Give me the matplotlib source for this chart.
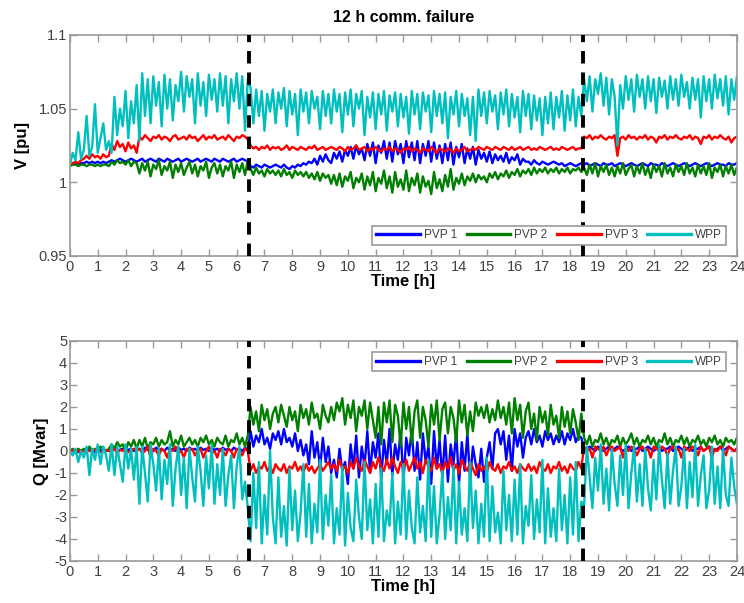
import numpy as np
import matplotlib
matplotlib.use("Agg")
import matplotlib.pyplot as plt

# sampled every 0.1 h, 0 ... 24 h (241 samples)
n_samples = 241
t_fail_start = 6.45
t_fail_end = 18.45

series_names = ["PVP 1", "PVP 2", "PVP 3", "WPP"]
series_colors = ["#0000ff", "#007f00", "#ff0000", "#00bfbf"]

v_pvp1 = [
    1.012, 1.012, 1.013, 1.012, 1.013,
    1.013, 1.014, 1.013, 1.014, 1.013, 1.014, 1.013, 1.014, 1.013, 1.014,
    1.015, 1.014, 1.015, 1.016, 1.015, 1.014, 1.015, 1.016, 1.015, 1.014,
    1.015, 1.016, 1.014, 1.015, 1.016, 1.015, 1.014, 1.016, 1.015, 1.014,
    1.016, 1.015, 1.014, 1.015, 1.016, 1.014, 1.015, 1.016, 1.015, 1.014,
    1.015, 1.016, 1.014, 1.015, 1.016, 1.015, 1.014, 1.016, 1.015, 1.014,
    1.016, 1.015, 1.014, 1.015, 1.016, 1.014, 1.015, 1.016, 1.015, 1.014,
    1.011, 1.010, 1.012, 1.011, 1.010, 1.012, 1.011, 1.010, 1.011, 1.012,
    1.011, 1.010, 1.012, 1.010, 1.009, 1.011, 1.010, 1.012, 1.011, 1.013,
    1.012, 1.014, 1.013, 1.016, 1.012, 1.018, 1.014, 1.019, 1.015, 1.013,
    1.020, 1.016, 1.021, 1.014, 1.022, 1.018, 1.024, 1.016, 1.025, 1.019,
    1.023, 1.015, 1.026, 1.018, 1.027, 1.013, 1.025, 1.020, 1.028, 1.016,
    1.027, 1.014, 1.028, 1.019, 1.026, 1.013, 1.028, 1.017, 1.027, 1.015,
    1.028, 1.013, 1.026, 1.018, 1.028, 1.014, 1.027, 1.016, 1.025, 1.013,
    1.026, 1.015, 1.027, 1.012, 1.024, 1.017, 1.026, 1.013, 1.023, 1.016,
    1.024, 1.012, 1.022, 1.016, 1.020, 1.014, 1.021, 1.013, 1.019, 1.015,
    1.018, 1.014, 1.020, 1.013, 1.017, 1.015, 1.019, 1.012, 1.016, 1.014,
    1.014, 1.012, 1.015, 1.013, 1.012, 1.014, 1.013, 1.012, 1.013, 1.014,
    1.013, 1.012, 1.013, 1.011, 1.012, 1.013, 1.012, 1.011, 1.012, 1.013,
    1.012, 1.013, 1.011, 1.012, 1.013, 1.012, 1.011, 1.013, 1.012, 1.012,
    1.013, 1.011, 1.012, 1.013, 1.012, 1.011, 1.012, 1.013, 1.012, 1.011,
    1.012, 1.013, 1.012, 1.011, 1.013, 1.012, 1.012, 1.011, 1.013, 1.012,
    1.011, 1.012, 1.013, 1.012, 1.011, 1.012, 1.013, 1.012, 1.011, 1.012,
    1.013, 1.012, 1.011, 1.012, 1.013, 1.012, 1.011, 1.012, 1.013, 1.012,
    1.012, 1.011, 1.013, 1.012, 1.012, 1.013,
]

v_pvp2 = [
    1.011, 1.012, 1.012, 1.011, 1.012,
    1.012, 1.011, 1.012, 1.012, 1.011, 1.012, 1.011, 1.012, 1.012, 1.011,
    1.014, 1.012, 1.015, 1.013, 1.014, 1.012, 1.015, 1.011, 1.014, 1.013,
    1.006, 1.013, 1.008, 1.014, 1.004, 1.012, 1.009, 1.015, 1.005, 1.011,
    1.008, 1.014, 1.003, 1.012, 1.007, 1.013, 1.005, 1.010, 1.014, 1.006,
    1.012, 1.004, 1.011, 1.008, 1.014, 1.003, 1.010, 1.013, 1.006, 1.012,
    1.004, 1.011, 1.008, 1.014, 1.003, 1.012, 1.007, 1.013, 1.005, 1.015,
    1.009, 1.005, 1.010, 1.006, 1.008, 1.004, 1.009, 1.006, 1.008, 1.005,
    1.008, 1.004, 1.009, 1.005, 1.007, 1.003, 1.008, 1.005, 1.007, 1.004,
    1.007, 1.003, 1.006, 1.002, 1.007, 1.001, 1.006, 1.003, 1.005, 0.999,
    1.005, 0.998, 1.006, 0.997, 1.004, 1.001, 1.007, 0.996, 1.003, 1.000,
    1.006, 0.995, 1.004, 0.998, 1.007, 0.994, 1.003, 0.999, 1.008, 0.996,
    1.004, 0.993, 1.007, 0.997, 1.002, 0.995, 1.008, 0.994, 1.003, 0.998,
    1.006, 0.993, 1.004, 0.997, 1.001, 0.992, 1.007, 0.996, 1.002, 0.994,
    1.005, 0.997, 1.009, 0.995, 1.003, 0.999, 1.006, 0.998, 1.004, 1.001,
    1.006, 1.000, 1.005, 1.002, 1.004, 1.000, 1.006, 1.003, 1.007, 1.002,
    1.006, 1.004, 1.008, 1.003, 1.007, 1.005, 1.009, 1.004, 1.008, 1.006,
    1.009, 1.005, 1.010, 1.006, 1.009, 1.007, 1.010, 1.006, 1.009, 1.007,
    1.010, 1.006, 1.009, 1.007, 1.010, 1.006, 1.009, 1.008, 1.010, 1.007,
    1.010, 1.005, 1.012, 1.006, 1.013, 1.004, 1.011, 1.007, 1.012, 1.005,
    1.010, 1.004, 1.011, 1.006, 1.013, 1.005, 1.009, 1.012, 1.004, 1.011,
    1.006, 1.013, 1.005, 1.010, 1.003, 1.012, 1.007, 1.011, 1.004, 1.013,
    1.006, 1.010, 1.004, 1.012, 1.007, 1.011, 1.005, 1.013, 1.006, 1.010,
    1.004, 1.012, 1.006, 1.011, 1.005, 1.013, 1.003, 1.010, 1.007, 1.012,
    1.004, 1.011, 1.006, 1.012, 1.005, 1.010,
]

v_pvp3 = [
    1.012, 1.013, 1.014, 1.013, 1.015,
    1.016, 1.018, 1.016, 1.019, 1.017, 1.018, 1.016, 1.019, 1.017, 1.018,
    1.026, 1.022, 1.028, 1.024, 1.026, 1.021, 1.027, 1.023, 1.025, 1.020,
    1.031, 1.029, 1.032, 1.030, 1.028, 1.031, 1.030, 1.032, 1.029, 1.031,
    1.030, 1.028, 1.031, 1.032, 1.029, 1.030, 1.031, 1.029, 1.032, 1.030,
    1.031, 1.028, 1.030, 1.032, 1.029, 1.031, 1.030, 1.032, 1.029, 1.030,
    1.031, 1.029, 1.032, 1.030, 1.028, 1.031, 1.030, 1.032, 1.031, 1.029,
    1.025, 1.023, 1.024, 1.022, 1.024, 1.023, 1.025, 1.022, 1.024, 1.023,
    1.024, 1.022, 1.023, 1.025, 1.022, 1.024, 1.023, 1.022, 1.024, 1.023,
    1.022, 1.024, 1.023, 1.025, 1.022, 1.023, 1.024, 1.022, 1.023, 1.024,
    1.023, 1.022, 1.024, 1.023, 1.021, 1.024, 1.022, 1.023, 1.025, 1.022,
    1.023, 1.024, 1.021, 1.023, 1.022, 1.024, 1.022, 1.021, 1.023, 1.022,
    1.024, 1.021, 1.023, 1.022, 1.020, 1.023, 1.022, 1.024, 1.021, 1.023,
    1.022, 1.020, 1.023, 1.022, 1.021, 1.024, 1.022, 1.020, 1.023, 1.022,
    1.021, 1.023, 1.022, 1.020, 1.023, 1.021, 1.022, 1.024, 1.021, 1.022,
    1.023, 1.022, 1.024, 1.023, 1.022, 1.024, 1.023, 1.022, 1.024, 1.023,
    1.022, 1.024, 1.023, 1.022, 1.024, 1.022, 1.023, 1.024, 1.022, 1.023,
    1.024, 1.022, 1.023, 1.022, 1.024, 1.023, 1.022, 1.023, 1.024, 1.022,
    1.023, 1.022, 1.024, 1.023, 1.022, 1.023, 1.024, 1.022, 1.023, 1.023,
    1.031, 1.030, 1.032, 1.029, 1.031, 1.030, 1.032, 1.030, 1.029, 1.031,
    1.030, 1.032, 1.018, 1.030, 1.031, 1.029, 1.032, 1.030, 1.031, 1.029,
    1.031, 1.030, 1.032, 1.029, 1.031, 1.030, 1.027, 1.031, 1.030, 1.032,
    1.029, 1.031, 1.030, 1.032, 1.030, 1.029, 1.031, 1.030, 1.032, 1.029,
    1.031, 1.030, 1.026, 1.031, 1.030, 1.032, 1.029, 1.031, 1.030, 1.032,
    1.030, 1.029, 1.031, 1.027, 1.030, 1.031,
]

v_wpp = [
    1.012, 1.020, 1.015, 1.034, 1.016,
    1.022, 1.045, 1.018, 1.024, 1.053, 1.020, 1.030, 1.040, 1.022, 1.028,
    1.020, 1.058, 1.032, 1.050, 1.038, 1.062, 1.030, 1.055, 1.040, 1.066,
    1.028, 1.074, 1.045, 1.070, 1.040, 1.072, 1.052, 1.068, 1.038, 1.073,
    1.050, 1.070, 1.042, 1.066, 1.055, 1.075, 1.048, 1.072, 1.058, 1.070,
    1.040, 1.074, 1.052, 1.068, 1.045, 1.073, 1.056, 1.070, 1.048, 1.074,
    1.052, 1.072, 1.040, 1.070, 1.055, 1.074, 1.050, 1.072, 1.035, 1.070,
    1.064, 1.040, 1.063, 1.045, 1.062, 1.035, 1.060, 1.048, 1.063, 1.040,
    1.061, 1.050, 1.064, 1.038, 1.062, 1.046, 1.060, 1.032, 1.063, 1.048,
    1.061, 1.040, 1.062, 1.050, 1.058, 1.036, 1.062, 1.045, 1.060, 1.040,
    1.063, 1.048, 1.060, 1.034, 1.061, 1.046, 1.063, 1.038, 1.060, 1.050,
    1.062, 1.032, 1.058, 1.044, 1.061, 1.036, 1.060, 1.046, 1.062, 1.035,
    1.059, 1.048, 1.061, 1.038, 1.060, 1.044, 1.058, 1.033, 1.062, 1.046,
    1.060, 1.036, 1.061, 1.048, 1.059, 1.034, 1.062, 1.045, 1.060, 1.040,
    1.061, 1.030, 1.058, 1.046, 1.062, 1.038, 1.060, 1.045, 1.057, 1.032,
    1.058, 1.028, 1.063, 1.045, 1.061, 1.040, 1.062, 1.048, 1.059, 1.036,
    1.061, 1.046, 1.063, 1.038, 1.060, 1.044, 1.058, 1.034, 1.062, 1.045,
    1.060, 1.036, 1.059, 1.042, 1.057, 1.032, 1.058, 1.040, 1.061, 1.036,
    1.058, 1.044, 1.062, 1.035, 1.059, 1.042, 1.063, 1.038, 1.058, 1.045,
    1.070, 1.055, 1.072, 1.048, 1.070, 1.060, 1.074, 1.052, 1.071, 1.046,
    1.070, 1.058, 1.025, 1.066, 1.050, 1.072, 1.056, 1.070, 1.048, 1.073,
    1.058, 1.070, 1.050, 1.072, 1.055, 1.070, 1.047, 1.071, 1.058, 1.069,
    1.050, 1.072, 1.056, 1.070, 1.052, 1.073, 1.058, 1.068, 1.050, 1.071,
    1.056, 1.070, 1.044, 1.072, 1.055, 1.070, 1.050, 1.073, 1.057, 1.070,
    1.052, 1.072, 1.046, 1.070, 1.056, 1.072,
]

q_pvp1 = [
    0.0, 0.05, 0.0, -0.05, 0.0,
    0.05, 0.0, 0.05, 0.0, -0.05, 0.0, 0.05, 0.0, 0.0, 0.05,
    0.0, 0.1, 0.0, 0.05, 0.1, 0.0, 0.05, 0.1, 0.0, 0.05,
    0.1, 0.0, 0.15, 0.05, 0.1, 0.0, 0.15, 0.05, 0.1, 0.0,
    0.15, 0.05, 0.1, 0.0, 0.15, 0.05, 0.1, 0.0, 0.15, 0.05,
    0.1, 0.0, 0.15, 0.05, 0.1, 0.0, 0.15, 0.05, 0.1, 0.0,
    0.15, 0.05, 0.1, 0.0, 0.15, 0.05, 0.1, 0.0, 0.15, 0.05,
    0.9, 0.2, 0.7, 0.4, 1.0, 0.3, 0.6, 0.1, 0.8, 0.5,
    0.9, 0.3, 1.0, 0.4, 0.6, 0.2, 0.8, 0.0, 0.5, -0.2,
    0.3, -0.6, 0.9, -0.3, 0.4, -0.8, 0.6, -0.5, 0.2, -1.0,
    -0.4, -1.2, 0.1, -0.9, -0.5, -1.5, 0.3, -0.8, 0.7, -1.2,
    0.2, -0.7, 0.9, -1.0, 0.4, -0.3, 0.8, -1.3, 0.5, -0.6,
    1.0, -1.1, 0.3, -0.4, 0.9, -1.4, 0.6, -0.2, 1.0, -0.9,
    0.4, -1.3, 0.8, -0.5, 0.2, -1.5, 0.9, -0.8, 0.5, -1.2,
    0.7, -1.4, 0.3, -0.6, 0.9, -1.5, 0.4, -0.9, 0.8, -1.3,
    0.2, -0.6, -1.2, 0.1, -1.4, -0.3, 0.4, -0.8, 0.8, 1.0,
    0.3, 0.9, -0.4, 0.7, -0.9, 1.0, 0.2, 0.8, -0.3, 0.6,
    0.9, 0.3, 1.0, 0.4, 0.7, 0.2, 0.9, 0.5, 0.8, 0.3,
    0.7, 0.4, 0.9, 0.3, 0.8, 0.5, 1.0, 0.4, 0.7, 0.6,
    0.1, 0.0, 0.2, 0.1, 0.0, 0.2, 0.1, 0.0, 0.1, 0.2,
    0.0, 0.1, 0.2, 0.1, 0.0, 0.1, 0.2, 0.0, 0.1, 0.1,
    0.2, 0.0, 0.1, 0.2, 0.1, 0.0, 0.1, 0.2, 0.0, 0.1,
    0.1, 0.2, 0.0, 0.1, 0.2, 0.1, 0.0, 0.1, 0.2, 0.0,
    0.1, 0.1, 0.2, 0.0, 0.1, 0.2, 0.1, 0.0, 0.1, 0.2,
    0.0, 0.1, 0.2, 0.1, 0.0, 0.1,
]

q_pvp2 = [
    0.0, 0.1, -0.1, 0.1, 0.0,
    0.1, 0.0, 0.2, 0.0, 0.1, 0.0, 0.2, 0.1, 0.0, 0.1,
    0.3, 0.1, 0.4, 0.2, 0.3, 0.0, 0.4, 0.2, 0.5, 0.1,
    0.5, 0.2, 0.6, 0.1, 0.4, 0.3, 0.6, 0.2, 0.5, 0.3,
    0.4, 0.9, 0.2, 0.5, 0.3, 0.7, 0.2, 0.4, 0.6, 0.3,
    0.5, 0.2, 0.6, 0.4, 0.7, 0.3, 0.5, 0.2, 0.6, 0.4,
    0.3, 0.7, 0.2, 0.5, 0.4, 0.8, 0.3, 0.6, 0.2, 0.7,
    2.0, 1.2, 1.8, 0.9, 2.1, 1.4, 1.9, 1.0, 1.7, 2.0,
    1.3, 2.1, 1.6, 1.1, 2.0, 1.4, 1.8, 0.9, 2.1, 1.5,
    1.9, 1.2, 2.2, 1.5, 1.7, 1.0, 2.1, 1.6, 1.3, 2.0,
    1.4, 2.2, 1.8, 2.4, 1.2, 2.1, 1.5, 2.3, 0.9, 2.0,
    1.6, 2.3, 1.0, 2.2, 1.4, 0.6, 2.0, 0.3, 2.2, 1.3,
    2.3, 0.4, 2.1, 1.6, 0.2, 2.2, 1.0, 2.0, 0.3, 1.8,
    2.3, 0.6, 2.0, 1.4, 0.2, 2.1, 1.2, 2.3, 0.5, 1.9,
    2.2, 0.8, 2.0, 1.5, 0.4, 2.3, 1.3, 2.1, 0.7, 1.8,
    0.9, 2.2, 1.6, 2.0, 1.5, 2.1, 1.3, 1.9, 1.4, 2.3,
    1.5, 2.0, 1.2, 2.2, 0.8, 2.4, 1.4, 2.1, 0.6, 1.8,
    2.2, 1.0, 1.7, 0.5, 2.0, 1.3, 1.8, 0.7, 2.1, 1.2,
    1.6, 0.6, 2.0, 1.1, 1.8, 0.8, 1.9, 1.3, 0.5, 1.7,
    0.6, 0.3, 0.7, 0.2, 0.5, 0.4, 0.8, 0.3, 0.6, 0.2,
    0.5, 0.4, 0.7, 0.2, 0.6, 0.3, 0.5, 0.8, 0.3, 0.6,
    0.2, 0.5, 0.4, 0.7, 0.3, 0.6, 0.2, 0.5, 0.4, 0.8,
    0.3, 0.6, 0.2, 0.5, 0.4, 0.7, 0.3, 0.6, 0.2, 0.5,
    0.4, 0.7, 0.3, 0.5, 0.2, 0.6, 0.4, 0.7, 0.3, 0.5,
    0.2, 0.6, 0.4, 0.5, 0.3, 0.6,
]

q_pvp3 = [
    0.0, 0.0, 0.05, 0.0, -0.05,
    0.0, 0.05, 0.0, 0.0, 0.05, 0.0, -0.05, 0.0, 0.05, 0.0,
    0.0, 0.1, -0.1, 0.05, 0.0, 0.1, -0.05, 0.0, 0.1, 0.0,
    0.1, -0.1, 0.0, 0.2, -0.3, 0.1, 0.0, -0.2, 0.1, 0.0,
    -0.3, 0.1, 0.0, 0.2, -0.1, 0.0, -0.3, 0.1, 0.0, 0.1,
    -0.2, 0.0, 0.1, -0.3, 0.0, 0.2, -0.1, 0.0, -0.3, 0.1,
    0.0, -0.2, 0.1, 0.0, -0.3, 0.1, 0.0, -0.2, 0.1, 0.0,
    -0.9, -0.6, -1.0, -0.7, -0.8, -0.5, -0.9, -0.7, -1.0, -0.6,
    -0.8, -0.9, -0.6, -1.0, -0.7, -0.8, -0.5, -0.9, -0.7, -1.0,
    -0.6, -0.9, -0.7, -1.0, -0.8, -0.6, -0.9, -0.7, -0.5, -0.8,
    -0.6, -0.9, -0.4, -0.8, -0.7, -1.0, -0.5, -0.8, -0.3, -0.7,
    -0.9, -0.4, -0.7, -1.0, -0.5, -0.8, -0.3, -0.7, -0.9, -0.4,
    -0.8, -0.3, -0.7, -1.0, -0.5, -0.8, -0.4, -0.9, -0.6, -0.3,
    -0.8, -0.5, -1.0, -0.4, -0.7, -0.9, -0.3, -0.8, -0.6, -1.0,
    -0.5, -0.8, -0.3, -0.9, -0.6, -1.0, -0.4, -0.7, -0.9, -0.5,
    -0.8, -1.1, -0.6, -0.9, -0.7, -1.0, -0.5, -0.8, -0.9, -0.6,
    -1.0, -0.7, -0.8, -0.5, -0.9, -0.7, -1.0, -0.6, -0.8, -0.9,
    -0.6, -0.9, -0.7, -1.0, -0.5, -0.8, -0.9, -0.6, -1.0, -0.7,
    -0.8, -0.5, -0.9, -0.7, -1.0, -0.6, -0.8, -0.9, -0.5, -0.8,
    0.2, 0.0, 0.1, -0.3, 0.2, 0.1, 0.0, 0.2, -0.2, 0.1,
    0.2, 0.0, 0.1, 0.2, -0.3, 0.1, 0.0, 0.2, 0.1, -0.2,
    0.1, 0.2, 0.0, 0.1, -0.3, 0.2, 0.1, 0.0, 0.2, 0.1,
    -0.2, 0.1, 0.2, 0.0, 0.1, -0.3, 0.2, 0.1, 0.0, 0.2,
    0.1, -0.2, 0.2, 0.0, 0.1, 0.2, -0.3, 0.1, 0.0, 0.2,
    0.1, -0.2, 0.2, 0.1, 0.0, 0.1,
]

q_wpp = [
    0.0, -0.2, 0.1, -0.5, 0.0,
    -0.3, 0.2, -1.1, 0.1, -0.4, 0.3, -0.6, 0.2, -0.2, -0.9,
    0.3, -1.1, 0.2, -0.6, -1.4, 0.3, -0.8, 0.1, -1.3, 0.2,
    -2.4, 0.2, -1.0, -2.3, 0.3, -0.6, -1.8, 0.1, -2.2, -0.4,
    -1.5, 0.3, -2.5, -0.8, 0.2, -2.0, -0.3, -2.6, 0.1, -1.2,
    -2.3, 0.2, -0.9, -2.5, -0.2, -1.7, 0.3, -2.4, -0.6, -2.0,
    0.1, -2.5, -1.1, -0.2, -2.6, -0.7, 0.2, -2.2, -1.4, -2.6,
    -4.1, -1.0, -3.5, -0.5, -4.2, -2.0, -3.8, 0.0, -3.0, -4.2,
    -1.2, -3.9, -2.5, -4.3, -0.8, -3.6, -1.8, -4.1, -2.8, -0.6,
    -3.9, -1.5, -4.2, -2.4, -3.7, -0.4, -4.0, -2.0, -3.4, -1.1,
    -4.2, -2.6, -3.8, -0.7, -4.3, -1.9, -3.5, -4.1, -1.3, -3.0,
    -4.0, -0.5, -3.6, -2.2, -4.2, -1.5, -3.9, -0.8, -4.1, -2.7,
    -3.4, -1.0, -4.2, -2.3, -3.8, -0.6, -4.0, -1.8, -3.5, -4.2,
    -1.2, -3.7, -2.5, -4.1, -0.4, -3.9, -1.6, -4.2, -2.9, -0.9,
    -4.0, -2.1, -3.6, -0.7, -4.2, -1.4, -3.8, -2.6, -4.1, -0.5,
    -3.5, -1.8, -4.2, -2.4, -3.9, -0.3, -4.1, -1.6, -3.7, -2.8,
    -4.2, -0.9, -3.6, -2.0, -4.1, -1.3, -3.8, -0.6, -4.2, -2.5,
    -3.4, -1.1, -4.0, -2.2, -3.7, -0.4, -4.2, -1.7, -3.9, -2.6,
    -4.1, -0.8, -3.6, -2.0, -4.2, -1.2, -3.8, -0.5, -4.1, -2.3,
    -2.5, 0.2, -1.2, -2.6, -0.3, -1.8, 0.3, -2.4, -0.8, -2.7,
    0.1, -1.5, -2.5, -0.2, -2.0, 0.3, -2.6, -1.0, 0.2, -2.3,
    -0.6, -2.5, 0.1, -1.7, -2.7, -0.4, -2.2, 0.3, -1.3, -2.6,
    -0.1, -2.4, -0.9, 0.2, -2.5, -1.6, 0.1, -2.6, -0.5, -2.1,
    0.3, -2.5, -1.1, -0.2, -2.6, -1.8, 0.2, -2.4, -0.7, -2.6,
    0.1, -2.0, -2.5, -0.3, -1.6, -2.4,
]

t = np.linspace(0, 24, n_samples)

plt.rcParams["font.family"] = ["Liberation Sans", "DejaVu Sans"]
plt.rcParams["axes.unicode_minus"] = False
tick_color = "#404040"
frame_color = "#999999"

fig = plt.figure(figsize=(7.44, 6.03), dpi=100)
ax_v = fig.add_axes([0.094, 0.5755, 0.8965, 0.3665])
ax_q = fig.add_axes([0.094, 0.0697, 0.8965, 0.3648])


def style_axes(ax):
    ax.set_xlim(0, 24)
    ax.set_xticks(range(0, 25))
    ax.tick_params(direction="in", top=True, right=True, length=5,
                   labelsize=10.5, labelcolor=tick_color, color=frame_color,
                   width=1.0)
    ax.tick_params(axis="y", pad=2)
    ax.tick_params(axis="x", pad=3)
    for sp in ax.spines.values():
        sp.set_color(frame_color)
        sp.set_linewidth(1.2)
    ax.set_xlabel("Time [h]", fontsize=12, fontweight="bold", labelpad=0)
    for tf in (t_fail_start, t_fail_end):
        ax.axvline(tf, color="black", lw=2.8, ls=(0, (3.2, 2.3)), zorder=5)


# voltage panel
for vals, name, col in zip([v_pvp1, v_pvp2, v_pvp3, v_wpp], series_names, series_colors):
    ax_v.plot(t, vals, color=col, lw=1.7, label=name)
ax_v.set_ylim(0.95, 1.1)
ax_v.set_yticks([0.95, 1.0, 1.05, 1.1])
ax_v.set_yticklabels(["0.95", "1", "1.05", "1.1"])
ax_v.set_ylabel("V [pu]", fontsize=12, fontweight="bold", labelpad=6)
style_axes(ax_v)
ax_v.set_title("12 h comm. failure", fontsize=11.5, fontweight="bold", pad=9)

# reactive power panel
for vals, name, col in zip([q_pvp1, q_pvp2, q_pvp3, q_wpp], series_names, series_colors):
    ax_q.plot(t, vals, color=col, lw=1.7, label=name)
ax_q.set_ylim(-5, 5)
ax_q.set_yticks(range(-5, 6))
ax_q.set_ylabel("Q [Mvar]", fontsize=12, fontweight="bold", labelpad=4)
style_axes(ax_q)

leg_kw = dict(ncol=4, fontsize=8.5, handlelength=3.7, handletextpad=0.35,
              columnspacing=0.8, borderpad=0.3, borderaxespad=0.4,
              fancybox=False, edgecolor=frame_color, framealpha=1,
              labelcolor=tick_color)
leg = ax_v.legend(loc="lower right", bbox_to_anchor=(0.99, 0.03), **leg_kw)
leg2 = ax_q.legend(loc="upper right", bbox_to_anchor=(0.99, 0.97), **leg_kw)
for lg in (leg, leg2):
    lg.get_frame().set_linewidth(1.2)
    for ln in lg.get_lines():
        ln.set_linewidth(2.4)

fig.savefig("out.png", dpi=100)
